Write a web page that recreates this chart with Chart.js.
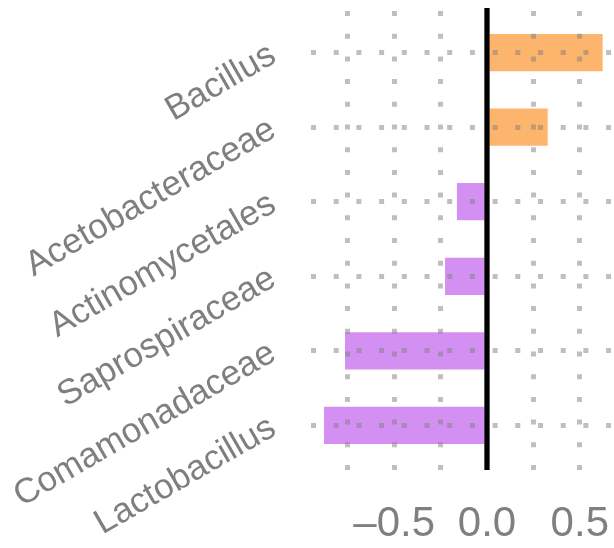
<!DOCTYPE html>
<html>
<head>
<meta charset="utf-8">
<script src="https://cdn.jsdelivr.net/npm/chart.js@4.4.1/dist/chart.umd.min.js"></script>
<style>
  html, body { margin: 0; padding: 0; background: #fff; }
</style>
</head>
<body>
<canvas id="barChart" width="614" height="548"></canvas>
<script>
// categorie (dall'alto verso il basso) e valori
const labels = ["Bacillus", "Acetobacteraceae", "Actinomycetales", "Saprospiraceae", "Comamonadaceae", "Lactobacillus"];
const values = [0.623, 0.327, -0.162, -0.226, -0.765, -0.878];

// griglia verticale ogni 0.25, etichette solo su questi valori
const gridValues = [-0.75, -0.5, -0.25, 0, 0.25, 0.5];
const tickLabels = [-0.5, 0, 0.5];

const gray = "#7f7f7f";
const dotColor = "rgba(128, 128, 128, 0.5)";

// linea nera dello zero, disegnata sopra tutto
const zeroLine = {
    id: "zeroLine",
    afterDraw(chart) {
        const { ctx, chartArea, scales } = chart;
        const px = scales.x.getPixelForValue(0);
        ctx.save();
        ctx.strokeStyle = "#000";
        ctx.lineWidth = 5.3;
        ctx.beginPath();
        ctx.moveTo(px, chartArea.top);
        ctx.lineTo(px, chartArea.bottom);
        ctx.stroke();
        ctx.restore();
    },
};

const ctx = document.getElementById("barChart").getContext("2d");
const chart = new Chart(ctx, {
    type: "bar",
    data: {
        datasets: [
            {
                data: values.map((v, i) => ({ x: v, y: i })),
                backgroundColor: values.map((v) => (v >= 0 ? "#fdb46c" : "#d48ff2")),
                borderWidth: 0,
                barPercentage: 0.5,
                categoryPercentage: 1,
            },
        ],
    },
    options: {
        responsive: false,
        animation: false,
        indexAxis: "y",
        layout: { padding: { top: 8, right: 3, left: 0, bottom: 0 } },
        plugins: {
            legend: { display: false },
            tooltip: { enabled: false },
        },
        scales: {
            x: {
                type: "linear",
                min: -0.948,
                max: 0.668,
                afterBuildTicks: (axis) => {
                    axis.ticks = gridValues.map((v) => ({ value: v }));
                },
                afterFit: (axis) => {
                    axis.height = 78;
                    axis.paddingLeft = 0;
                    axis.paddingRight = 0;
                },
                ticks: {
                    autoSkip: false,
                    maxRotation: 0,
                    minRotation: 0,
                    padding: 29,
                    color: gray,
                    font: { family: "'Liberation Sans', Arial, sans-serif", size: 42 },
                    callback: (v) => {
                        if (!tickLabels.includes(v)) return "";
                        return v < 0 ? "\u2013" + Math.abs(v).toFixed(1) : v.toFixed(1);
                    },
                },
                grid: {
                    z: 1,
                    drawTicks: false,
                    lineWidth: 5,
                    color: (c) => (c.tick && c.tick.value === 0 ? "rgba(0,0,0,0)" : dotColor),
                },
                border: { display: false, dash: [5, 17.7], dashOffset: -3 },
            },
            y: {
                type: "linear",
                reverse: true,
                offset: false,
                min: -0.6,
                max: 5.6,
                afterBuildTicks: (axis) => {
                    axis.ticks = labels.map((_, i) => ({ value: i }));
                },
                afterFit: (axis) => {
                    axis.width = 311;
                    axis.paddingTop = 0;
                    axis.paddingBottom = 0;
                },
                ticks: {
                    autoSkip: false,
                    minRotation: 30,
                    maxRotation: 30,
                    padding: 38,
                    color: gray,
                    font: { family: "'Liberation Sans', Arial, sans-serif", size: 35 },
                    callback: (v) => labels[v],
                },
                grid: {
                    z: 1,
                    offset: false,
                    drawTicks: false,
                    lineWidth: 5,
                    color: dotColor,
                },
                border: { display: false, dash: [5, 17.7] },
            },
        },
    },
    plugins: [zeroLine],
});
</script>
</body>
</html>
